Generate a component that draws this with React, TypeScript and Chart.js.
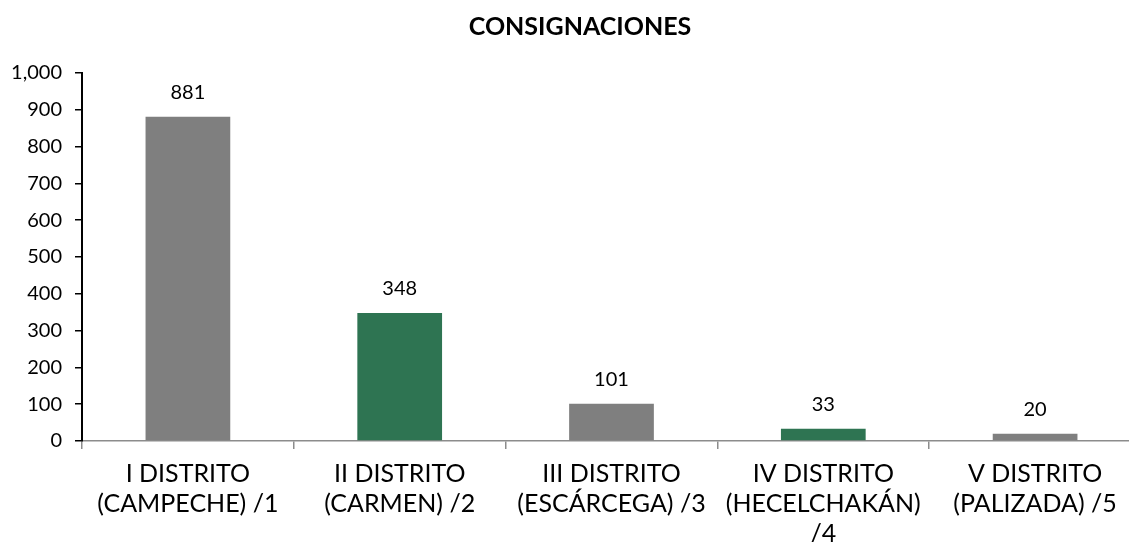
import React, { useEffect, useRef } from "react";
import { Chart, registerables } from "chart.js";

Chart.register(...registerables);

const chartTitle = "CONSIGNACIONES";
const categories: string[][] = [
  ["I DISTRITO", "(CAMPECHE) /1"],
  ["II DISTRITO", "(CARMEN) /2"],
  ["III DISTRITO", "(ESCÁRCEGA) /3"],
  ["IV DISTRITO", "(HECELCHAKÁN)", "/4"],
  ["V DISTRITO", "(PALIZADA) /5"],
];
const values = [881, 348, 101, 33, 20];
const barColors = ["#7F7F7F", "#2E7452", "#7F7F7F", "#2E7452", "#7F7F7F"];
const yMin = 0;
const yMax = 1000;
const yStep = 100;

const FONT = "Lato";

const titlePlugin = {
  id: "centerTitle",
  afterDraw(chart: any) {
    const ctx = chart.ctx;
    ctx.save();
    ctx.font = `bold 25px ${FONT}`;
    ctx.fillStyle = "#000";
    ctx.textAlign = "center";
    ctx.textBaseline = "middle";
    ctx.fillText(chartTitle, chart.width / 2, 27);
    ctx.restore();
  },
};

const dataLabelPlugin = {
  id: "dataLabels",
  afterDatasetsDraw(chart: any) {
    const ctx = chart.ctx;
    const meta = chart.getDatasetMeta(0);
    ctx.save();
    ctx.font = `20px ${FONT}`;
    ctx.fillStyle = "#000";
    ctx.textAlign = "center";
    ctx.textBaseline = "middle";
    meta.data.forEach((bar: any, i: number) => {
      ctx.fillText(String(values[i]), bar.x, bar.y - 24);
    });
    ctx.restore();
  },
};

export default function App() {
  const ref = useRef<HTMLCanvasElement | null>(null);
  useEffect(() => {
    if (!ref.current) return;
    const chart = new Chart(ref.current, {
      type: "bar",
      data: {
        labels: categories,
        datasets: [
          {
            data: values,
            backgroundColor: barColors,
            borderWidth: 0,
            barPercentage: 0.4,
            categoryPercentage: 1,
          },
        ],
      },
      options: {
        animation: false,
        responsive: true,
        maintainAspectRatio: false,
        layout: { padding: { top: 73, right: 19, left: 0, bottom: 0 } },
        plugins: {
          legend: { display: false },
          title: { display: false },
          tooltip: { enabled: false },
        },
        scales: {
          x: {
            afterFit: (s: any) => {
              s.height = 101;
            },
            border: { display: true, color: "#8C8C8C", width: 1.5 },
            grid: {
              display: true,
              drawOnChartArea: false,
              drawTicks: true,
              tickLength: 8,
              color: "#8C8C8C",
              lineWidth: 1.5,
              offset: true,
            },
            ticks: {
              color: "#000",
              font: { family: FONT, size: 25, lineHeight: 1.2 },
              padding: 10,
              maxRotation: 0,
              autoSkip: false,
            },
          },
          y: {
            min: yMin,
            max: yMax,
            afterFit: (s: any) => {
              s.width = 82;
            },
            border: { display: true, color: "#000", width: 2 },
            grid: {
              display: true,
              drawOnChartArea: false,
              drawTicks: true,
              tickLength: 7,
              color: "#000",
              lineWidth: 1.5,
            },
            ticks: {
              stepSize: yStep,
              color: "#000",
              font: { family: FONT, size: 20 },
              padding: 13,
              callback: (v: any) => Number(v).toLocaleString("en-US"),
            },
          },
        },
      },
      plugins: [titlePlugin, dataLabelPlugin],
    });
    return () => chart.destroy();
  }, []);

  return (
    <div
      style={{
        position: "fixed",
        left: 0,
        top: 0,
        width: 1129,
        height: 542,
        overflow: "hidden",
        background: "#fff",
      }}
    >
      <div style={{ position: "relative", width: 1160, height: 542 }}>
        <canvas ref={ref} />
      </div>
    </div>
  );
}
